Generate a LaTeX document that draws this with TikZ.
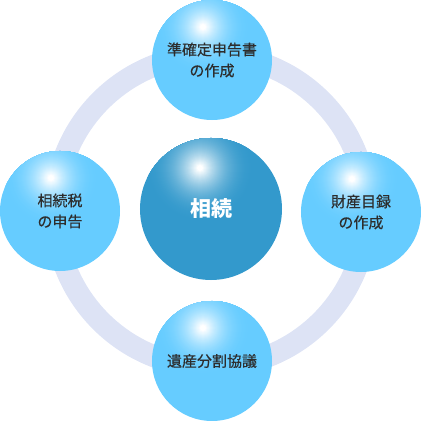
\documentclass[tikz,border=0pt]{standalone}
\usepackage{fontspec}
\newfontfamily\jp{Noto Sans CJK JP}
\newfontfamily\jpm[FakeBold=0.4]{Noto Sans CJK JP}
\definecolor{ringc}{RGB}{221,227,245}
\definecolor{satc}{RGB}{102,204,255}
\definecolor{cenc}{RGB}{51,153,204}
\definecolor{txtc}{RGB}{45,45,45}
\tikzset{
  sat/.style={circle, minimum size=120bp, inner sep=0pt, fill=satc, align=center, text=txtc, font=\jpm\fontsize{15bp}{21bp}\selectfont,
    path picture={\foreach \r in {47,46,...,1}{\pgfmathsetmacro\p{min(100,100*(1-(\r-3)/45)^2.2)}\fill[white!\p!satc] ([shift={(-9bp,33bp)}]path picture bounding box.center) circle (\r bp);}}},
  cen/.style={circle, minimum size=142bp, inner sep=0pt, fill=cenc, align=center, text=white, font=\jp\bfseries\fontsize{21bp}{25bp}\selectfont,
    path picture={\foreach \r in {54,53,...,1}{\pgfmathsetmacro\p{min(100,100*(1-(\r-3)/52)^2.2)}\fill[white!\p!cenc] ([shift={(-11bp,41bp)}]path picture bounding box.center) circle (\r bp);}}},
  ring/.style={draw=ringc, line width=22bp}
}
\begin{document}
\begin{tikzpicture}[x=1bp,y=1bp]
\useasboundingbox (0,0) rectangle (421,421);
\coordinate (o) at (211,210);
\draw[ring] (o) circle (156bp);
\node[cen] (main) at (211,212) {相続};
\node[sat] (top) at (212,361) {準確定申告書\\の作成};
\node[sat] (right) at (361,209) {財産目録\\の作成};
\node[sat] (bottom) at (212,60) {遺産分割協議};
\node[sat] (left) at (60,210) {相続税\\の申告};
\end{tikzpicture}
\end{document}
